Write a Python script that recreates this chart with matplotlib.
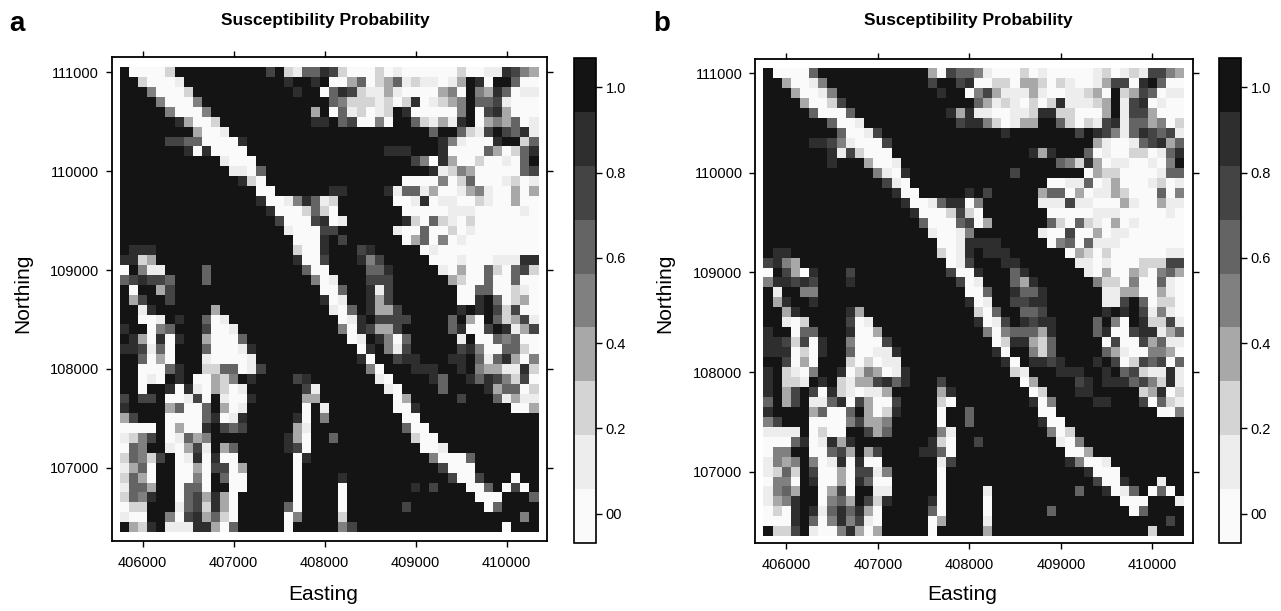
import numpy as np
import matplotlib
matplotlib.use("Agg")
import matplotlib.pyplot as plt
from matplotlib.colors import ListedColormap, BoundaryNorm

plt.rcParams['font.family'] = ['Liberation Sans', 'DejaVu Sans']

W, H = 1281, 611

# one string per row (north to south), spaces only to help counting
# 0 = white ... # = black
grid_a = [
    "#00002#### ######8#21 6698200020 1000000200 119854",
    "##20001### ########9# #9#0046023 61211014#9 0##700",
    "###50002## #########9 ##07982113 10000350#5 497011",
    "####500 05# ########## ###7522212 02901235#6 681000",
    "#####50005 ########## #4#0612012 #9000005#0 893000",
    "######9300 2######### #99#680050 ##721419#0 454601",
    "########40 01######## ########## ####6##721 8#8691",
    "#####88760 0009###### ########## #####95100 09##27",
    "#######909 0000###### #########9 99###90000 640269",
    "########## #1000##### ########## ##85093002 00106#",
    "########## ##1107#### ########## ####912530 000078",
    "########## ###920#### ########## #000050270 001201",
    "########## #####00### ###99####9 1661300135 100403",
    "########## #####90015 9712###### 0019011002 100400",
    "########## ######9000 2720###### #000001110 000010",
    "########## #######800 08901##### #920721020 000000",
    "########## ########10 0088###### 1006002010 000000",
    "########## #########0 009#8##### #036050100 000000",
    "#999###### #########2 009###89## ###0100000 000000",
    "9924###### #########9 008###958# ####000100 011199",
    "0#511####7 ########## 600####669 #####10300 620782",
    "689886###7 ########## #501###888 ######3200 700600",
    "#0##38#### ########## ##007##918 #######006 600210",
    "#38##8#### ########## ##901##938 #######009 #70230",
    "##19###### 4######### ###106#943 8######9#9 #82800",
    "##001#9##6 01######## ####019#88 88####6#40 #72381",
    "9##056###8 001####### ####509843 8#####6900 8#9148",
    "#940909##3 0006###### #####01#95 06#####1#0 065600",
    "998160###6 00019##### ######09#5 18#####895 007720",
    "##7030###1 00001##### ######90## 899###99#6 169405",
    "##00069##2 276018#### #######50# ##999##9#5 431192",
    "##010#9#00 325#9####8 9#######10 ####97##97 985280",
    "##0##90910 3201###### 81#######1 0####7#### 946602",
    "8#88#00180 #1009##### 33######## 04#####8## #61411",
    "9####37006 #301###### 0#1####### 009####### ###003",
    "38###00006 9019#####9 0#5####### #00####### ######",
    "0000#04009 #868#####3 1######### #700###### ######",
    "1258#01635 ########93 0##6###### ##200##### ######",
    "075##10381 #37#####98 0######### ###001#### ######",
    "26528#0190 900######0 9######### ####50007# ######",
    "1370##0030 8803#####0 ########## #####8000# ######",
    "2730##0050 #700#####0 ####9##### ######8008 ###0##",
    "1663##0770 ##00#####0 ####0##### ##9#8###00 6#080#",
    "2759##0783 940######0 ####0##### #########0 00###6",
    "022###1782 940#####60 ####0##### #8######## 06####",
    "100##50894 720#####05 ####2##### ########## ####5#",
    "#429#11199 406#####0# ####58#### ########## ##0###",
]

grid_b = [
    "#00006#### ########40 8665100020 1000001201 218853",
    "##30015### ########8# #890022033 2021001488 09#600",
    "###30015## #########9 ##05841113 10011240#2 487011",
    "####40028# ########## ###6412102 02911124#1 890100",
    "#####60006 ########## 9491100112 99220004#1 884000",
    "#######600 1######### #899520144 ##62021891 664502",
    "########60 018####### ######9### ####8#9851 798681",
    "#####99851 0008###### ########## ######4100 168946",
    "#######918 2000###### #########9 49###70100 220169",
    "#######9## #4001##### ########## ##65293011 00105#",
    "########## ##5109#### #######8## #####03220 000176",
    "########## ###810#### ########## #001170130 001201",
    "########## ####900### ##9#8##### 3760401142 000705",
    "########## #####90016 9905###### 1118110004 100411",
    "########## ######9000 2820###### #000001110 000010",
    "########## #######700 06803##### #720721040 100000",
    "########## ########10 015####### 1008004011 000000",
    "########## #########0 019999#### #057071110 000000",
    "#99####### #########2 019#999### ###0420200 000011",
    "8953###### ########## 018###99## ####110100 022288",
    "0#8309###8 ########## 8009###79# #####10400 420574",
    "599898###9 ########## #801###649 ######5220 500610",
    "#1##55#### ########## ##006##966 9######114 400310",
    "#39##9#### ########## ##901##889 9######118 #60220",
    "##39#####9 4######### ###206##66 8######9#9 #81510",
    "##102####8 01######## ###9018#98 99####6#50 #92281",
    "9##066###9 003####### ####505666 49####6900 899137",
    "9982809##5 0008###### #####02993 27#####080 084611",
    "9990209##6 00119##### #####90##5 27#####641 005530",
    "##8040###2 02011##### ######90#9 989###9#80 286806",
    "9#2105##90 254019#### #######21# ##999##9#7 821191",
    "9#221#9#21 448979###8 ########04 ####89#999 685291",
    "9#48#80921 0114#####4 9########0 2###99#### #24902",
    "6#48#11690 84008####2 0########9 05####99## #80621",
    "9####47006 #4029####0 ##6####### 00######## ###005",
    "58###00005 8445#####0 ##6####### 900####### ######",
    "1111#0200# #846#####5 1######### #502###### ######",
    "0006901949 ########92 0##8###### ##105##### ######",
    "055##00784 #38####996 0######### ###004#### ######",
    "1545#50190 900######1 8######### ###95001## ######",
    "1262#80040 8815#####0 ########## #####9000# ######",
    "0550#90040 9600#####0 ########## ######8009 ###1##",
    "1574##0480 ##11#####0 ####1##### ####7##901 6#070#",
    "1459##0564 #829####90 ####0##### #########0 00###1",
    "0209#91796 940#####70 ####0##### #7######## 07####",
    "0009#60595 810#####04 ####1##### ########## ####8#",
    "#228#10059 404#####0# ####4##### ########## ##2###",
]

# probability for each character
prob = {'0': 0.0, '1': 0.11, '2': 0.24, '3': 0.37, '4': 0.37, '5': 0.5,
        '6': 0.62, '7': 0.62, '8': 0.75, '9': 0.87, '#': 1.0}

eastings = np.arange(405800, 410400, 100)
northings = np.arange(111000, 106300, -100)

x_ticks = [406000, 407000, 408000, 409000, 410000]
y_ticks = [107000, 108000, 109000, 110000, 111000]
bar_ticks = [0, 0.2, 0.4, 0.6, 0.8, 1.0]
bar_labels = ['00', '0.2', '0.4', '0.6', '0.8', '1.0']

greys = ['#fafafa', '#ededed', '#d4d4d4', '#a8a8a8', '#808080',
         '#646464', '#444444', '#2e2e2e', '#141414']
bounds = np.linspace(-0.069, 1.069, 10)
cmap = ListedColormap(greys)
norm = BoundaryNorm(bounds, 9)


def to_values(rows):
    out = []
    for r in rows:
        r = r.replace(' ', '')
        r = (r + '#' * 46)[:46]
        out.append([prob[c] for c in r])
    return np.array(out)


def px_axes(fig, left, top, right, bottom):
    return fig.add_axes([left / W, 1 - bottom / H, (right - left) / W, (bottom - top) / H])


def panel(fig, rows, box, cbar_x, xlim, ylim, letter, letter_x, title_x, ylabel_x, xlabel_x, cb_top, cb_bot):
    ax = px_axes(fig, *box)
    mesh = ax.pcolormesh(eastings, northings, to_values(rows), cmap=cmap, norm=norm, shading='nearest')
    ax.set_xlim(xlim)
    ax.set_ylim(ylim)
    ax.set_xticks(x_ticks)
    ax.set_yticks(y_ticks)
    ax.tick_params(top=True, right=True, direction='out', length=4, width=1, labelsize=10.5)
    ax.tick_params(axis='x', pad=7)
    ax.tick_params(axis='y', pad=5)
    for s in ax.spines.values():
        s.set_linewidth(1.3)
    fig.text(title_x / W, 1 - 21 / H, "Susceptibility Probability", fontsize=12.5, fontweight='bold',
             ha='center', va='center')
    fig.text(letter_x / W, 1 - 24 / H, letter, fontsize=20, fontweight='bold', ha='center', va='center')
    fig.text(xlabel_x / W, 1 - 595 / H, "Easting", fontsize=15, ha='center', va='center')
    fig.text(ylabel_x / W, 1 - 293 / H, "Northing", fontsize=15, rotation=90, ha='center', va='center')

    cax = px_axes(fig, cbar_x, cb_top, cbar_x + 22, cb_bot)
    cb = fig.colorbar(mesh, cax=cax, boundaries=bounds, ticks=bar_ticks, drawedges=False)
    cb.ax.set_yticklabels(bar_labels)
    cb.ax.tick_params(length=4, width=1, labelsize=10.5, pad=3)
    cb.ax.minorticks_off()
    cb.outline.set_linewidth(1.2)


fig = plt.figure(figsize=(W / 100, H / 100), dpi=100)

panel(fig, grid_a, (111.7, 56.7, 546.7, 540.7), 574,
      (405659, 410440), (106262, 111158), 'a', 17, 325, 23, 323, 58, 543)
panel(fig, grid_b, (755, 58.7, 1193, 543), 1219,
      (405658, 410445), (106282, 111148), 'b', 662, 968, 665, 962, 58, 543)

fig.savefig("out.png", dpi=100)
